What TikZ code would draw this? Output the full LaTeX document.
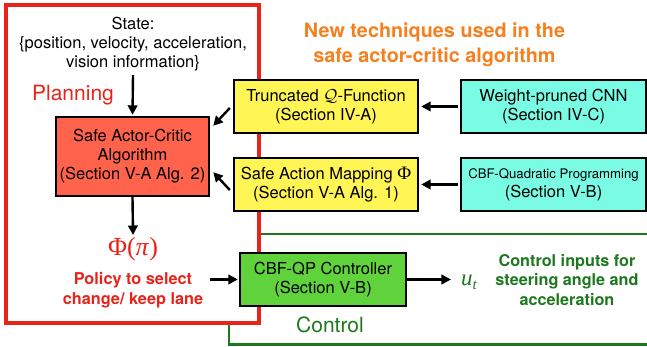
\documentclass[tikz,border=0pt]{standalone}
\usepackage[no-math]{fontspec}
\setmainfont{TeX Gyre Heros}
\newfontfamily\serifgreek{Liberation Serif}
\usetikzlibrary{arrows.meta}
\definecolor{planred}{RGB}{233,35,26}
\definecolor{sacfill}{RGB}{255,99,75}
\definecolor{techyellow}{RGB}{255,245,85}
\definecolor{techcyan}{RGB}{122,252,228}
\definecolor{ctrlfill}{RGB}{95,210,60}
\definecolor{ctrlgreen}{RGB}{28,120,28}
\definecolor{techorange}{RGB}{245,128,32}
\begin{document}
\begin{tikzpicture}[x=1pt,y=-1pt,
  body/.style={font=\fontsize{16.5}{19}\selectfont},
  box/.style={body,draw=black,line width=2.4pt,align=center,inner sep=0pt},
  techbox/.style={box,minimum width=184pt,minimum height=53pt},
  lbl/.style={inner sep=0pt,align=center},
  arr/.style={-{Triangle[length=9.5pt,width=9.5pt]},line width=2.4pt}]
\useasboundingbox (0,0) rectangle (647,347);
\clip (0,0) rectangle (647,347);

% control frame (open to the right), then the planning frame over it
\draw[ctrlgreen,line width=2.8pt] (229,234) rectangle (700,344.5);
\draw[planred,line width=3.8pt,fill=white] (6,5) rectangle (259,323);

% planning side
\node[lbl,body] (state) at (133,44) {State:\\\{position, velocity, acceleration,\\vision information\}};
\node[lbl,planred,font=\fontsize{21}{24}\selectfont] (planning) at (73,95) {Planning};
\node[box,fill=sacfill,minimum width=153pt,minimum height=79pt] (sac) at (132.5,156.5)
  {Safe Actor-Critic\\Algorithm\\(Section V-A Alg. 2)};
\node[lbl,planred,font=\fontsize{26}{28}\serifgreek] (phi) at (133,249) {Φ(\textit{π})};
\node[lbl,planred,font=\fontsize{16.3}{20}\selectfont\bfseries] (policy) at (133,290)
  {Policy to select\\change/ keep lane};

% new techniques
\node[lbl,techorange,font=\fontsize{19.8}{25}\selectfont\bfseries] (newtech) at (434.5,44.5)
  {New techniques used in the\\safe actor-critic algorithm};
\node[techbox,fill=techyellow] (trunc) at (326,106.5) {Truncated $\mathcal{Q}$-Function\\(Section IV-A)};
\node[techbox,fill=techyellow] (sam) at (326,184.5) {Safe Action Mapping {\serifgreek\fontsize{19}{19}\selectfont Φ}\\(Section V-A Alg. 1)};
\node[techbox,fill=techcyan,minimum width=185pt] (wcnn) at (553.5,106.5) {Weight-pruned CNN\\(Section IV-C)};
\node[techbox,fill=techcyan,minimum width=185pt] (cbfprog) at (553.5,184.5)
  {\fontsize{13.2}{17}\selectfont CBF-Quadratic Programming\\\fontsize{16.5}{19}\selectfont(Section V-B)};

% control side
\node[box,fill=ctrlfill,minimum width=166pt,minimum height=53pt] (cbfqp) at (323,279.5)
  {CBF-QP Controller\\(Section V-B)};
\node[lbl,ctrlgreen,font=\fontsize{23}{24}\serifgreek\itshape] (ut) at (469,282) {u\raisebox{-4pt}{\fontsize{15}{15}\selectfont t}};
\node[lbl,ctrlgreen,font=\fontsize{16.2}{19.5}\selectfont\bfseries] (ctrlin) at (567,280)
  {Control inputs for\\steering angle and\\acceleration};
\node[lbl,ctrlgreen,font=\fontsize{21}{24}\selectfont] (control) at (330,325) {Control};

% connectors
\draw[arr] ([yshift=-4pt]state.south) -- ([yshift=1pt]sac.north);
\draw[arr] (sac.south) -- ([yshift=2pt]phi.north);
\draw[arr] ([xshift=7pt]policy.east |- cbfqp.west) -- ([xshift=-1pt]cbfqp.west);
\draw[arr] (cbfqp.east) -- ([xshift=-10pt]ut.west |- cbfqp.east);
\draw[arr] ([xshift=-2pt]wcnn.west) -- ([xshift=2pt]trunc.east);
\draw[arr] ([xshift=-2pt]cbfprog.west) -- ([xshift=2pt]sam.east);
\draw[arr] ([shift={(-3,1.5)}]trunc.west) -- ([shift={(3,10)}]sac.north east);
\draw[arr] ([shift={(-3,5.5)}]sam.west) -- ([shift={(3,-25)}]sac.south east);
\end{tikzpicture}
\end{document}
